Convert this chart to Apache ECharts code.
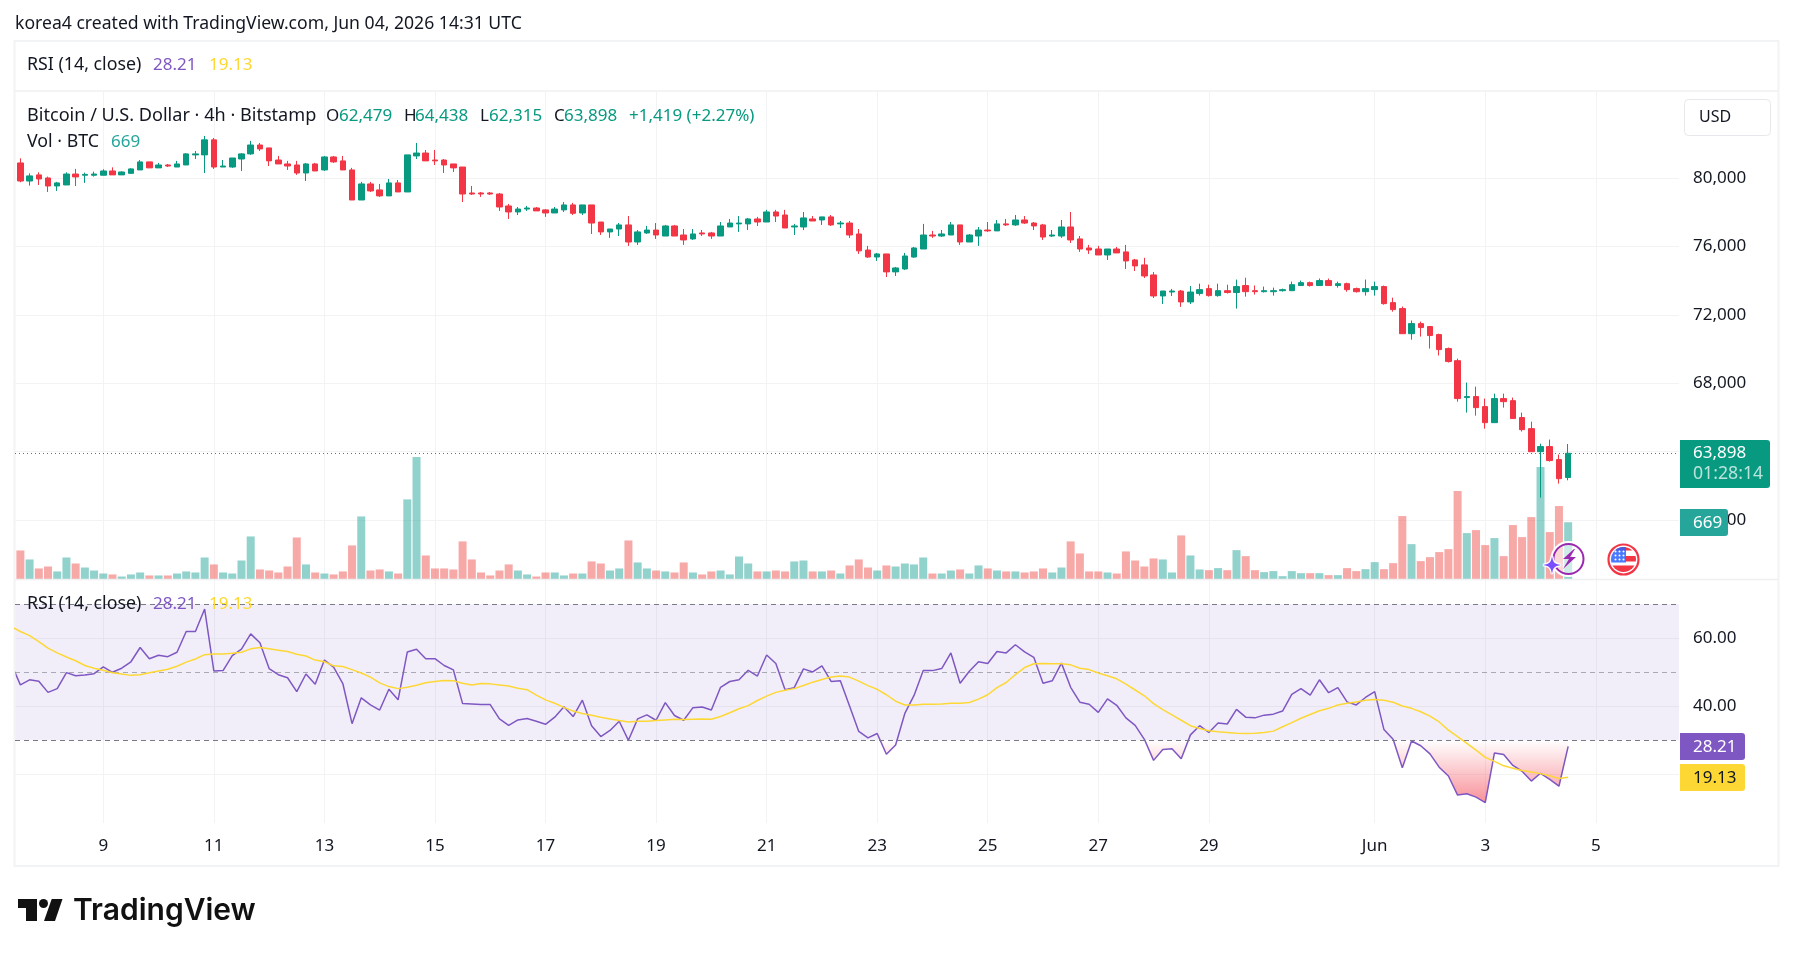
<!DOCTYPE html>
<html>
<head>
<meta charset="utf-8">
<title>BTC/USD 4h</title>
<style>html,body{margin:0;padding:0;background:#fff}#chart{width:1793px;height:956px}</style>
<script src="https://cdn.jsdelivr.net/npm/echarts@6/dist/echarts.min.js"></script>
</head>
<body>
<div id="chart"></div>
<script>
// 4h Bitcoin candles: open, close, low, high
const candles = [
[80900,79840,79770,81170],[79840,80140,79570,80290],[80200,79960,79610,80350],[80020,79550,79200,80100],[79550,79730,79260,79790],
[79610,80250,79610,80350],[80250,80080,79550,80550],[80180,80230,79730,80330],[80180,80250,80100,80390],[80180,80430,80180,80530],
[80430,80200,80200,80640],[80200,80370,80200,80410],[80290,80550,80270,80590],[80490,80960,80490,81070],[80960,80610,80610,80960],
[80610,80780,80610,80900],[80780,80720,80660,80840],[80660,80840,80660,81020],[80780,81430,80780,81480],[81370,81430,81130,81600],
[81370,82250,80310,82480],[82250,80660,80550,82360],[80660,80720,80660,81070],[80660,81190,80610,81190],[81130,81430,80430,81480],
[81430,81950,81370,82190],[81950,81720,81600,82070],[81780,81020,80720,81780],[81070,80840,80840,81310],[80840,80720,80490,81020],
[80780,80310,80200,81020],[80310,80840,79840,80900],[80840,80430,80430,80900],[80490,81250,80430,81310],[81250,80960,80900,81310],
[81020,80490,80490,81310],[80490,78730,78730,80610],[78730,79670,78730,79790],[79670,79260,79200,79790],[79320,78970,78910,79670],
[78970,79730,78970,79960],[79730,79200,79200,79900],[79200,81370,79200,81370],[81310,81480,81130,82070],[81480,81020,81020,81660],
[81070,81020,80780,81660],[81070,80780,80310,81130],[80840,80610,80370,80840],[80660,79080,78610,80660],[79140,79080,79020,79550],
[79140,79080,78910,79200],[79140,79080,79020,79200],[79080,78320,78090,79140],[78380,78030,77620,78500],[78030,78200,77850,78320],
[78200,78260,78090,78380],[78260,78090,78090,78320],[78150,77970,77740,78200],[77970,78200,77970,78320],[78150,78440,78030,78610],
[78440,77950,77850,78560],[77970,78440,77850,78440],[78440,77380,76740,78440],[77440,76860,76680,77440],[76860,77030,76510,77030],
[77030,77270,76620,77380],[77270,76270,76040,77790],[76270,76860,76100,76970],[76800,76970,76740,77210],[76970,76680,76450,77380],
[76620,77210,76620,77270],[77210,76620,76620,77270],[76680,76390,76100,77030],[76450,76740,76390,77030],[76800,76740,76620,76970],
[76800,76620,76450,76860],[76620,77210,76620,77440],[77150,77380,77150,77620],[77330,77380,76860,77790],[77330,77620,76970,77680],
[77620,77440,77210,77740],[77440,78030,77440,78150],[78030,77790,77440,78150],[77850,77090,77090,78150],[77150,77210,76680,77330],
[77150,77680,76970,78030],[77620,77500,77500,77790],[77560,77740,77270,77740],[77740,77270,77210,77850],[77330,77380,77090,77500],
[77380,76680,76510,77500],[76740,75750,75570,77030],[75800,75390,75340,76040],[75390,75570,75160,75630],[75570,74520,74220,75570],
[74520,74750,74280,74810],[74690,75450,74630,75630],[75390,75920,75340,75980],[75860,76680,75860,77330],[76680,76620,76510,76920],
[76620,76740,76560,76970],[76680,77270,76680,77440],[77270,76270,76100,77270],[76270,76680,76270,76740],[76620,76970,76040,77150],
[76970,76920,76860,77440],[76920,77330,76920,77560],[77330,77270,77210,77620],[77270,77560,77210,77850],[77560,77380,77330,77790],
[77380,77210,76970,77440],[77270,76560,76390,77330],[76620,76680,76560,76970],[76620,77150,76510,77560],[77150,76390,76210,78030],
[76450,75860,75690,76620],[75920,75800,75570,76100],[75860,75510,75510,76040],[75510,75860,75220,75860],[75860,75630,75630,75980],
[75690,75160,74690,76100],[75220,74870,74570,75280],[74930,74280,74160,75340],[74340,73110,72990,74510],[73110,73400,72640,73400],
[73340,73400,73110,73520],[73400,72760,72470,73460],[72760,73340,72640,73690],[73250,73480,73130,73830],[73540,73130,73070,73770],
[73130,73420,73070,73830],[73420,73310,73250,73770],[73310,73660,72370,74070],[73720,73360,73070,74180],[73420,73360,73190,73720],
[73360,73420,73310,73660],[73360,73420,73130,73600],[73420,73480,73360,73540],[73420,73770,73420,73950],[73720,73890,73720,74010],
[73890,73720,73660,73950],[73720,74010,73720,74130],[74010,73720,73720,74130],[73720,73830,73600,73950],[73830,73480,73360,73890],
[73540,73360,73310,73600],[73360,73540,73130,74070],[73480,73660,73130,73950],[73660,72660,72600,73720],[72720,72310,72190,73010],
[72370,70900,70900,72490],[70900,71490,70550,71670],[71490,71260,70730,71610],[71320,70790,70030,71320],[70850,69970,69620,70900],
[70030,69270,69210,70090],[69320,67100,66920,69440],[67160,67220,66280,68040],[67220,66570,66100,67800],[66630,65690,65340,67100],
[65690,67100,65690,67390],[67100,66920,66570,67390],[66980,65930,65930,67160],[65990,65280,65170,66280],[65340,63990,63990,65750],
[63990,64290,61300,64460],[64290,63470,63410,64700],[63530,62410,62120,63820],[62479,63898,62315,64438]
];

// Volume per bar, in BTC
const volumes = [
339,234,129,152,94,257,187,140,105,70,59,35,59,82,47,47,47,70,94,82,
257,176,82,70,222,503,117,105,82,152,491,176,82,70,59,94,398,737,105,117,
94,70,936,1431,281,129,129,117,445,234,82,47,105,176,105,59,35,82,82,47,
70,70,211,187,105,129,456,199,129,105,94,82,199,82,59,94,105,59,269,187,
94,94,105,94,211,222,94,94,105,70,164,234,140,105,164,152,187,176,257,70,
70,105,117,70,164,129,105,94,94,82,94,129,82,140,445,304,94,94,82,70,
328,222,152,246,234,82,515,281,117,109,133,109,343,273,109,86,98,39,98,74,
74,74,51,51,133,98,121,203,121,191,741,413,215,261,320,355,1034,542,577,402,
484,273,636,495,729,1314,554,858,669
];

// RSI(14) and its moving average; both begin one bar before the first candle
const rsiValues = [
52.6,46.3,47.8,47.4,44.1,45.2,49.9,49.0,49.2,49.6,51.6,50.0,51.2,53.1,57.3,54.0,55.0,54.6,55.9,62.0,
62.0,68.6,50.4,50.5,54.9,56.8,61.3,58.7,51.1,49.3,48.4,44.3,49.5,46.5,53.6,51.5,46.7,34.9,42.5,40.4,
38.9,45.0,41.9,56.0,56.8,54.0,54.0,52.0,50.7,40.8,40.7,40.5,40.5,36.3,34.4,36.0,36.4,35.6,34.7,36.8,
39.9,37.0,41.8,34.3,31.1,32.9,35.6,30.0,36.3,37.5,35.9,41.1,37.3,35.9,39.6,39.8,38.9,45.6,47.3,47.8,
50.6,48.9,55.1,52.6,44.9,45.5,51.0,50.1,51.9,47.3,47.5,40.1,32.6,30.7,32.0,25.9,28.6,37.9,43.2,50.5,
50.5,51.1,55.7,46.8,50.3,53.1,52.6,56.1,55.7,58.1,56.0,54.4,46.8,47.5,52.7,45.6,41.2,40.6,38.2,42.2,
40.3,36.6,34.4,30.3,24.1,27.3,27.5,24.6,31.6,34.3,32.3,35.1,34.8,39.1,36.8,36.6,37.4,37.7,38.6,43.5,
45.2,43.3,47.8,44.0,45.5,41.3,40.4,42.6,44.3,33.2,30.3,21.9,29.8,28.4,26.0,22.1,19.5,13.9,14.3,13.3,
11.7,26.3,25.8,22.6,20.9,18.0,20.3,18.5,16.5,28.21
];
const rsiAverage = [
63.4,62.0,60.8,59.0,57.1,55.7,54.5,53.4,52.0,51.2,50.6,49.9,49.5,49.1,49.3,49.9,50.4,50.9,51.8,53.0,
53.9,55.2,55.4,55.4,55.6,55.9,56.9,57.3,56.9,56.5,56.1,55.3,54.8,53.6,53.1,51.9,51.7,50.8,49.8,48.6,
46.9,45.8,45.2,45.6,46.2,46.9,47.3,47.6,47.5,46.8,46.3,46.7,46.6,46.3,46.0,45.3,44.9,43.3,41.9,40.9,
39.7,38.6,37.9,37.4,36.8,36.3,35.8,35.4,35.6,35.6,35.8,36.0,36.2,36.1,36.2,36.3,36.2,37.0,38.1,39.3,
40.2,41.7,43.0,44.1,44.7,45.2,46.1,47.1,47.9,48.6,48.9,48.6,47.4,46.1,45.0,43.4,41.5,40.4,40.4,40.6,
40.6,40.7,40.9,40.9,41.1,42.1,43.4,45.5,47.0,49.3,51.4,52.5,52.6,52.5,52.5,52.2,51.2,50.8,49.8,49.0,
48.1,46.5,44.8,43.1,40.8,39.0,37.5,35.9,34.3,33.5,32.8,32.5,32.3,32.1,32.0,32.1,32.3,32.7,34.0,35.2,
36.5,37.6,38.7,39.4,40.4,40.9,41.3,41.8,42.0,41.8,41.2,40.1,39.4,38.4,37.1,35.4,33.0,31.1,29.1,27.1,
25.0,23.8,22.5,21.8,21.1,20.7,20.2,19.6,18.8,19.13
];

const priceTicks = [60000, 64000, 68000, 72000, 76000, 80000];
const rsiTicks = [20, 40, 60];
const rsiTickLabels = [40, 60];
const dateTicks = [
  [4, 9, '9'], [4, 11, '11'], [4, 13, '13'], [4, 15, '15'], [4, 17, '17'], [4, 19, '19'], [4, 21, '21'],
  [4, 23, '23'], [4, 25, '25'], [4, 27, '27'], [4, 29, '29'], [5, 1, 'Jun'], [5, 3, '3'], [5, 5, '5']
];

const lastClose = 63898;
const UP = '#089981', DOWN = '#F23645', VOL_UP = '#26A69A', VOL_DOWN = '#EF5350';
const RSI = '#7E57C2', RSI_MA = '#FDD835', INK = '#131722', GRID = '#F2F3F5';
const FONT = '"Noto Sans", sans-serif';
const NUM_SIZE = 17, WORD_SIZE = 17.8;

const BAR_MS = 4 * 3600 * 1000;
const firstBar = Date.UTC(2026, 4, 7, 12);
const barTime = i => firstBar + i * BAR_MS;
const tickTimes = dateTicks.map(d => Date.UTC(2026, d[0], d[1]));
const tickNames = dateTicks.map(d => d[2]);

const candleRows = candles.map((c, i) => [barTime(i), c[0], c[1], c[2], c[3]]);
const volumeRows = volumes.map((v, i) => ({
  value: [barTime(i), v],
  itemStyle: { color: candles[i][1] >= candles[i][0] ? VOL_UP : VOL_DOWN, opacity: 0.5 }
}));
const rsiRows = rsiValues.map((v, i) => [barTime(i - 1), v]);
const rsiAvgRows = rsiAverage.map((v, i) => [barTime(i - 1), v]);

// Time window of the panes, in bars from the first candle
const xMin = Math.round(barTime(-0.583));
const xMax = Math.round(barTime(180.03));

function xAxis(gridIndex, showLabels) {
  return {
    type: 'value', gridIndex, min: xMin, max: xMax,
    axisLine: { show: false },
    axisTick: { show: false, customValues: tickTimes },
    splitLine: { show: true, lineStyle: { color: GRID, width: 1 } },
    axisLabel: showLabels ? {
      show: true, customValues: tickTimes, margin: 15, fontFamily: FONT, fontSize: NUM_SIZE, color: INK,
      hideOverlap: false, formatter: v => tickNames[tickTimes.indexOf(v)]
    } : { show: false }
  };
}

function text(content, x, y, fill, size, font) {
  return {
    type: 'text', z: 100, silent: true, x, y,
    style: {
      text: content, fill, font: font || ((size || NUM_SIZE) + 'px ' + FONT),
      textVerticalAlign: 'middle', textAlign: 'left'
    }
  };
}
function box(x, y, width, height, fill) {
  return { type: 'rect', z: 90, silent: true, shape: { x, y, width, height, r: [0, 3, 3, 0] }, style: { fill } };
}
function rule(x1, y1, x2, y2, width) {
  return { type: 'line', z: 5, silent: true, shape: { x1, y1, x2, y2 }, style: { stroke: '#EFF0F2', lineWidth: width } };
}

// Session and earnings markers beside the volume bars
const boltIcon = 'data:image/svg+xml;utf8,' + encodeURIComponent(
  '<svg xmlns="http://www.w3.org/2000/svg" width="54" height="40" viewBox="0 0 54 40">' +
  '<circle cx="34.5" cy="19" r="16.5" fill="#fff" fill-opacity=".55" stroke="#fff" stroke-width="3"/>' +
  '<circle cx="34.5" cy="19" r="15" fill="none" stroke="#9C27B0" stroke-width="2"/>' +
  '<path d="M40 9 L29 19 L35 19 L29 29 L42 17 L36 17 L41 9 Z" fill="#9C27B0"/>' +
  '<path d="M18 16 C19 22 20 24 27 25 C20 26 19 28 18 34 C17 28 16 26 9 25 C16 24 17 22 18 16 Z" fill="#7C4DFF" stroke="#fff" stroke-width="2.5" paint-order="stroke"/>' +
  '</svg>');
const flagIcon = 'data:image/svg+xml;utf8,' + encodeURIComponent(
  '<svg xmlns="http://www.w3.org/2000/svg" width="34" height="34" viewBox="-17 -17 34 34">' +
  '<defs><clipPath id="c"><circle r="12.5"/></clipPath></defs>' +
  '<circle r="15" fill="#fff" stroke="#F23645" stroke-width="2.2"/>' +
  '<g clip-path="url(#c)"><rect x="-13" y="-13" width="26" height="26" fill="#fff"/>' +
  '<rect x="-13" y="-13" width="26" height="4" fill="#F23645"/>' +
  '<rect x="2" y="-3.5" width="12" height="5.5" fill="#F23645"/>' +
  '<rect x="-13" y="6" width="26" height="8" fill="#F23645"/>' +
  '<rect x="-13" y="-13" width="15.5" height="16" fill="#2962FF" fill-opacity=".85"/>' +
  '<g fill="#fff"><circle cx="-8" cy="-8" r="1"/><circle cx="-4" cy="-8" r="1"/><circle cx="0" cy="-8" r="1"/>' +
  '<circle cx="-8" cy="-4" r="1"/><circle cx="-4" cy="-4" r="1"/><circle cx="0" cy="-4" r="1"/>' +
  '<circle cx="-8" cy="0" r="1"/><circle cx="-4" cy="0" r="1"/><circle cx="0" cy="0" r="1"/></g></g></svg>');

const chart = echarts.init(document.getElementById('chart'), null, { renderer: 'canvas' });
chart.setOption({
  animation: false,
  backgroundColor: '#ffffff',
  textStyle: { fontFamily: FONT },
  grid: [
    { left: 15, width: 1664, top: 91, height: 488.5 },
    { left: 15, width: 1664, top: 580, height: 243 }
  ],
  xAxis: [xAxis(0, false), xAxis(1, true)],
  yAxis: [
    {
      type: 'value', gridIndex: 0, position: 'right', min: 56506, max: 85112, scale: true,
      axisLine: { show: false },
      axisTick: { show: false, customValues: priceTicks },
      splitLine: { show: true, lineStyle: { color: GRID, width: 1 } },
      axisLabel: {
        customValues: priceTicks, margin: 14, fontFamily: FONT, fontSize: NUM_SIZE, color: INK,
        formatter: v => v.toLocaleString('en-US')
      }
    },
    {
      type: 'value', gridIndex: 0, min: 0, max: 5707, show: false,
      axisLine: { show: false }, axisTick: { show: false }, splitLine: { show: false }
    },
    {
      type: 'value', gridIndex: 1, position: 'right', min: 5.68, max: 77.15,
      axisLine: { show: false },
      axisTick: { show: false, customValues: rsiTicks },
      splitLine: { show: true, lineStyle: { color: GRID, width: 1 } },
      axisLabel: {
        customValues: rsiTickLabels, margin: 14, padding: [2, 0, 0, 0], fontFamily: FONT, fontSize: NUM_SIZE, color: INK,
        formatter: v => v.toFixed(2)
      }
    }
  ],
  series: [
    {
      name: 'Vol', type: 'bar', xAxisIndex: 0, yAxisIndex: 1, barWidth: 8, z: 2, data: volumeRows
    },
    {
      name: 'BTCUSD', type: 'candlestick', xAxisIndex: 0, yAxisIndex: 0, barWidth: 6, z: 3, clip: false,
      encode: { x: 0, y: [1, 2, 3, 4] },
      itemStyle: { color: UP, color0: DOWN, borderColor: UP, borderColor0: DOWN, borderWidth: 1 },
      data: candleRows,
      markLine: {
        silent: true, symbol: 'none', label: { show: false }, animation: false,
        lineStyle: { color: UP, type: [1, 3], width: 1 },
        data: [{ yAxis: lastClose }]
      }
    },
    {
      name: 'RSI', type: 'line', xAxisIndex: 1, yAxisIndex: 2, z: 4, symbol: 'none', smooth: false,
      lineStyle: { color: RSI, width: 1.5 },
      areaStyle: {
        origin: 30, opacity: 1,
        color: {
          type: 'linear', global: true, x: 0, y: 740, x2: 0, y2: 803,
          colorStops: [
            { offset: 0, color: 'rgba(242,54,69,0)' },
            { offset: 1, color: 'rgba(242,54,69,0.55)' }
          ]
        }
      },
      data: rsiRows,
      markArea: {
        silent: true, animation: false, z: 1,
        itemStyle: { color: 'rgba(126,87,194,0.1)' },
        data: [[{ yAxis: 70 }, { yAxis: 30 }]]
      },
      markLine: {
        silent: true, symbol: 'none', label: { show: false }, animation: false,
        data: [
          { yAxis: 70, lineStyle: { color: '#787B86', type: [5, 4], width: 1 } },
          { yAxis: 50, lineStyle: { color: '#787B86', type: [5, 4], width: 1, opacity: 0.6 } },
          { yAxis: 30, lineStyle: { color: '#787B86', type: [5, 4], width: 1 } }
        ]
      }
    },
    {
      name: 'RSI MA', type: 'line', xAxisIndex: 1, yAxisIndex: 2, z: 5, symbol: 'none',
      lineStyle: { color: RSI_MA, width: 1.5 }, data: rsiAvgRows
    }
  ],
  graphic: {
    elements: [
      { type: 'rect', z: 5, silent: true, shape: { x: 14.5, y: 41, width: 1764, height: 825 }, style: { fill: 'none', stroke: '#F2F3F5', lineWidth: 2 } },
      rule(15, 91, 1778, 91, 1.5),
      rule(15, 579.5, 1778, 579.5, 1.5),

      text('korea4 created with TradingView.com, Jun 04, 2026 14:31 UTC', 15, 24, INK, 17.6),

      text('RSI (14, close)', 27, 65, INK, WORD_SIZE),
      text('28.21', 153, 65, RSI),
      text('19.13', 209, 65, RSI_MA),

      text('Bitcoin / U.S. Dollar \u00b7 4h \u00b7 Bitstamp', 27, 116, INK, 18.1),
      text('O', 326, 116, INK), text('62,479', 339, 116, UP),
      text('H', 404, 116, INK), text('64,438', 415, 116, UP),
      text('L', 480, 116, INK), text('62,315', 489, 116, UP),
      text('C', 554, 116, INK), text('63,898', 564, 116, UP),
      text('+1,419 (+2.27%)', 629, 116, UP),
      text('Vol \u00b7 BTC', 27, 142, INK, WORD_SIZE),
      text('669', 111, 142, VOL_UP),

      { type: 'rect', z: 80, silent: true, shape: { x: 1684.5, y: 99.5, width: 86, height: 36, r: 4 }, style: { fill: '#fff', stroke: '#E6E8EC', lineWidth: 1 } },
      text('USD', 1699, 117, INK, 16),

      text('RSI (14, close)', 27, 604, INK, WORD_SIZE),
      text('28.21', 153, 604, RSI),
      text('19.13', 209, 604, RSI_MA),

      box(1680, 440, 90, 48, UP),
      text('63,898', 1693, 453, '#fff'),
      text('01:28:14', 1693, 474, 'rgba(255,255,255,0.72)', 17.7),
      box(1680, 509, 48, 27, VOL_UP),
      text('669', 1693, 523, '#fff'),
      box(1680, 733, 65, 27, RSI),
      text('28.21', 1693, 747, '#fff'),
      box(1680, 764, 65, 27, RSI_MA),
      text('19.13', 1693, 778, INK),

      { type: 'image', z: 70, silent: true, style: { image: boltIcon, x: 1534, y: 540, width: 54, height: 40 } },
      { type: 'image', z: 70, silent: true, style: { image: flagIcon, x: 1606.5, y: 542.5, width: 34, height: 34 } },

      { type: 'polygon', z: 100, silent: true, shape: { points: [[18, 899], [37, 899], [37, 921], [26, 921], [26, 908], [18, 908]] }, style: { fill: '#111' } },
      { type: 'circle', z: 100, silent: true, shape: { cx: 43.5, cy: 903.5, r: 4.5 }, style: { fill: '#111' } },
      { type: 'polygon', z: 100, silent: true, shape: { points: [[51.7, 899], [62.5, 899], [55, 921], [44, 921]] }, style: { fill: '#111' } },
      text('TradingView', 73, 911, '#111', 30, '600 30px Inter, sans-serif')
    ]
  }
});
</script>
</body>
</html>
